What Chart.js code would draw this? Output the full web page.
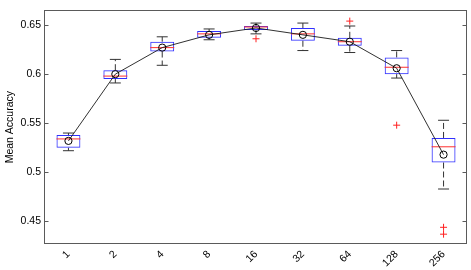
<!DOCTYPE html>
<html>
<head>
<meta charset="utf-8">
<script src="https://cdn.jsdelivr.net/npm/chart.js@4"></script>
<style>
  html, body { margin: 0; padding: 0; background: #fff; }
  #wrap { width: 471px; height: 270px; position: relative; }
</style>
</head>
<body>
<div id="wrap"><canvas id="boxChart"></canvas></div>
<script>
// categories (number of ...) and box statistics
const cats = ['1', '2', '4', '8', '16', '32', '64', '128', '256'];
const whiskerHi = [0.540, 0.615, 0.638, 0.646, 0.652, 0.652, 0.649, 0.624, 0.553];
const q3 = [0.538, 0.604, 0.633, 0.644, 0.649, 0.647, 0.637, 0.617, 0.535];
const median = [0.534, 0.598, 0.627, 0.641, 0.648, 0.641, 0.633, 0.607, 0.526];
const q1 = [0.525, 0.595, 0.623, 0.637, 0.645, 0.634, 0.629, 0.600, 0.510];
const whiskerLo = [0.522, 0.591, 0.609, 0.635, 0.641, 0.624, 0.622, 0.596, 0.483];
const mean = [0.532, 0.600, 0.627, 0.640, 0.647, 0.640, 0.633, 0.606, 0.518];
const outlierCats = ['16', '64', '128', '256', '256'];
const outlierVals = [0.636, 0.654, 0.548, 0.444, 0.437];
const yTicks = [0.45, 0.5, 0.55, 0.6, 0.65];

const FONT = "'Liberation Sans', Arial, Helvetica, sans-serif";

// dashed whisker segments, broken with nulls between categories
const whiskers = [];
cats.forEach((c, i) => {
    whiskers.push({x: c, y: q3[i]}, {x: c, y: whiskerHi[i]}, {x: c, y: null});
    whiskers.push({x: c, y: q1[i]}, {x: c, y: whiskerLo[i]}, {x: c, y: null});
});

// frame round the axes with inward ticks, matlab style
const framePlugin = {
    id: 'frame',
    afterDatasetsDraw(chart) {
        const {ctx, chartArea: a} = chart;
        const y = chart.scales.y;
        const l = Math.round(a.left) - 0.5, r = Math.round(a.right) - 0.5;
        const t = Math.round(a.top) + 0.5, b = Math.round(a.bottom) - 0.5;
        ctx.save();
        ctx.strokeStyle = '#5a5a5a';
        ctx.lineWidth = 1;
        ctx.strokeRect(l, t, r - l, b - t);
        ctx.beginPath();
        y.ticks.forEach(tk => {
            const py = Math.round(y.getPixelForValue(tk.value)) + 0.5;
            ctx.moveTo(l, py); ctx.lineTo(l + 4, py);
            ctx.moveTo(r, py); ctx.lineTo(r - 4, py);
        });
        ctx.stroke();
        ctx.restore();
    }
};

new Chart(document.getElementById('boxChart'), {
    type: 'bar',
    data: {
        labels: cats,
        datasets: [
        {
            type: 'line',
            label: 'mean',
            data: mean,
            borderColor: '#1a1a1a',
            borderWidth: 0.9,
            pointStyle: 'circle',
            pointRadius: 3.6,
            pointBorderColor: '#000',
            pointBackgroundColor: 'rgba(0,0,0,0)',
            pointBorderWidth: 1,
            tension: 0,
            order: 0
        },
        {
            type: 'line',
            label: 'outliers',
            data: outlierCats.map((c, i) => ({x: c, y: outlierVals[i]})),
            showLine: false,
            pointStyle: 'cross',
            pointRadius: 3.5,
            pointBorderColor: '#ff2020',
            pointBorderWidth: 1,
            order: 1
        },
        {
            type: 'line',
            label: 'median',
            data: median,
            showLine: false,
            pointStyle: 'line',
            pointRadius: 12,
            pointBorderColor: '#ff3030',
            pointBorderWidth: 1,
            order: 2
        },
        {
            label: 'box',
            data: cats.map((c, i) => [q1[i], q3[i]]),
            backgroundColor: 'rgba(0,0,0,0)',
            borderColor: '#3030ff',
            borderWidth: 1,
            borderSkipped: false,
            grouped: false,
            barPercentage: 0.51,
            categoryPercentage: 1,
            order: 3
        },
        {
            type: 'line',
            label: 'capHi',
            data: whiskerHi,
            showLine: false,
            pointStyle: 'line',
            pointRadius: 5.5,
            pointBorderColor: '#333',
            pointBorderWidth: 1,
            order: 4
        },
        {
            type: 'line',
            label: 'capLo',
            data: whiskerLo,
            showLine: false,
            pointStyle: 'line',
            pointRadius: 5.5,
            pointBorderColor: '#333',
            pointBorderWidth: 1,
            order: 5
        },
        {
            type: 'line',
            label: 'whisker',
            data: whiskers,
            borderColor: '#333',
            borderWidth: 1,
            borderDash: [6, 3],
            pointRadius: 0,
            spanGaps: false,
            order: 6
        }
        ]
    },
    options: {
        responsive: true,
        maintainAspectRatio: false,
        animation: false,
        layout: {
            autoPadding: false,
            padding: {left: 0, right: 4, top: 4, bottom: 0}
        },
        plugins: {
            legend: {display: false},
            tooltip: {enabled: false}
        },
        scales: {
            x: {
                offset: true,
                grid: {display: false, drawTicks: false},
                border: {display: false},
                ticks: {
                    color: '#000',
                    font: {family: FONT, size: 10.5},
                    minRotation: 45,
                    maxRotation: 45,
                    padding: 4
                },
                afterFit(scale) { scale.height = 26; }
            },
            y: {
                min: 0.427,
                max: 0.665,
                grid: {display: false, drawTicks: false},
                border: {display: false},
                ticks: {
                    color: '#000',
                    font: {family: FONT, size: 10.5},
                    padding: 4,
                    callback: v => String(v)
                },
                afterBuildTicks(scale) {
                    scale.ticks = yTicks.map(v => ({value: v}));
                },
                title: {
                    display: true,
                    text: 'Mean Accuracy',
                    color: '#000',
                    font: {family: FONT, size: 10.5},
                    padding: {top: 4, bottom: 4}
                },
                afterFit(scale) { scale.width = 45; }
            }
        }
    },
    plugins: [framePlugin]
});
</script>
</body>
</html>
